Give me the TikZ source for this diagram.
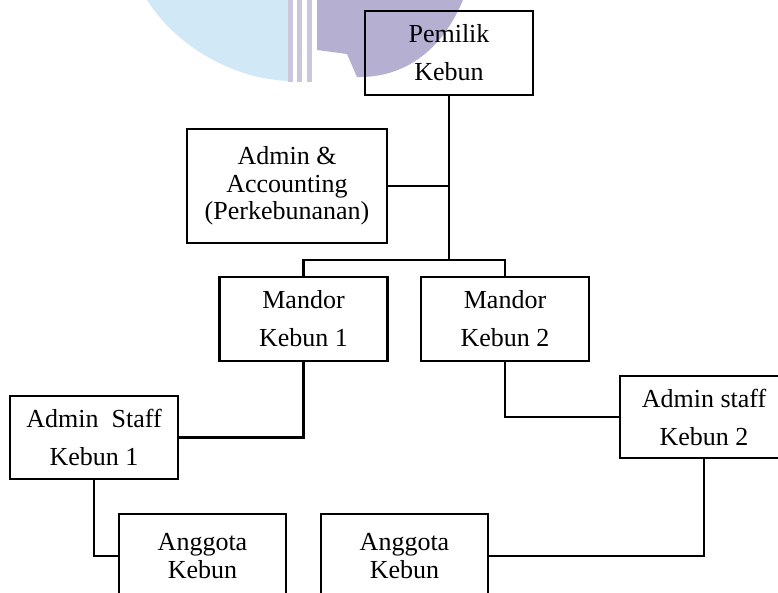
\documentclass[tikz,border=0pt]{standalone}
\usepackage{fontspec}
\setmainfont{Liberation Serif}
\definecolor{wmblue}{HTML}{D1E8F6}
\definecolor{wmpurple}{HTML}{B5AFD2}
\definecolor{wmstripe}{HTML}{C9C7DD}
\tikzset{
  box/.style={draw, line width=2.8pt, rectangle, inner sep=0pt, align=center,
    minimum width=168pt, minimum height=84pt, font=\fontsize{26}{38}\selectfont},
  tightbox/.style={box, font=\fontsize{26}{27.5}\selectfont},
  link/.style={line width=2.8pt}
}
\begin{document}
\begin{tikzpicture}[x=1pt,y=-1pt]
\clip (0,0) rectangle (778,593);
\fill[white] (0,0) rectangle (778,593);
% watermark
\fill[wmblue] (147,0) .. controls (172,40) and (225,78) .. (288,81) -- (288,0) -- cycle;
\foreach \a/\b in {288/293, 297/302, 307/312}
  \fill[wmstripe] (\a,0) rectangle (\b,82);
\fill[wmpurple] (317,0) -- (317,50) -- (347,54) -- (357,77)
  .. controls (400,78) and (440,55) .. (463,0) -- cycle;
% boxes
\node[box] (pem) at (449,53) {Pemilik\\Kebun};
\node[tightbox, minimum width=200pt, minimum height=114pt] (adm) at (287,186) {Admin \&\\Accounting\\(Perkebunanan)};
\node[box] (m1) at (303.5,319) {Mandor\\Kebun 1};
\node[box] (m2) at (505,319) {Mandor\\Kebun 2};
\node[box, minimum height=83pt] (as1) at (94,437.5) {Admin\ \ Staff\\Kebun 1};
\node[box, minimum height=82pt] (as2) at (704,417) {Admin staff\\Kebun 2};
\node[tightbox, minimum width=167pt] (ang1) at (202.5,556) {Anggota\\Kebun};
\node[tightbox, minimum width=167pt] (ang2) at (404.5,556) {Anggota\\Kebun};
% connectors
\coordinate (j) at (449,260);
\draw[link] (pem.south) -- (j);
\draw[link] (adm.east) -- (adm.east -| j);
\draw[link] (m1.north) |- (j) -| (m2.north);
\draw[link] (m1.south) |- (as1.east);
\draw[link] (m2.south) |- (as2.west);
\draw[link] (as2.south) |- (ang2.east);
\draw[link] (as1.south) |- (ang1.west);
\end{tikzpicture}
\end{document}
